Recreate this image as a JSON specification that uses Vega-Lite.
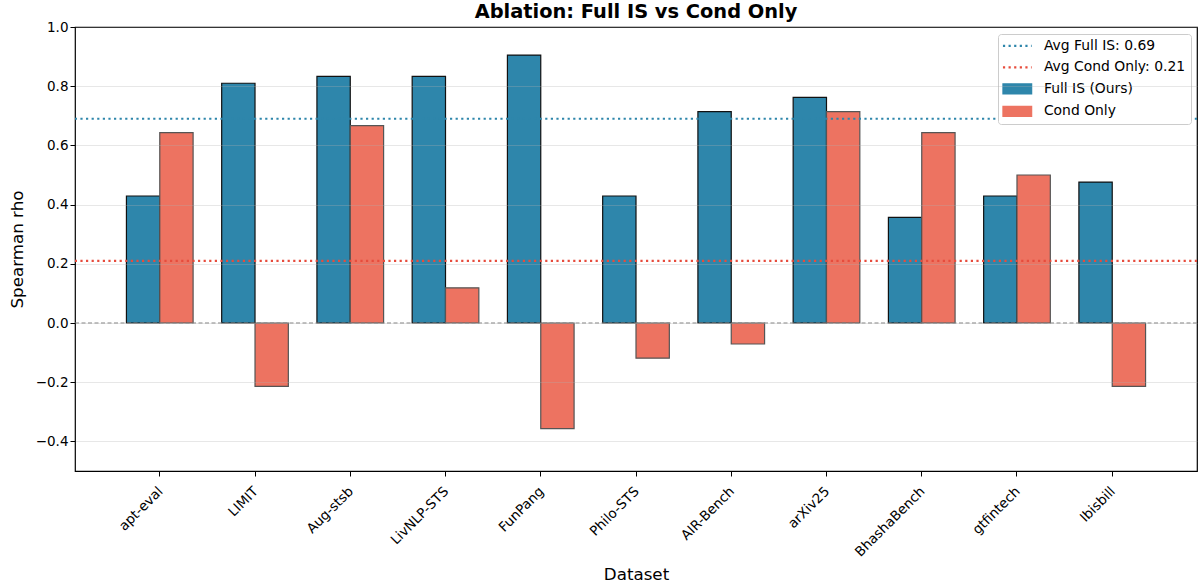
{
  "$schema": "https://vega.github.io/schema/vega-lite/v6.json",
  "autosize": {"type": "none"},
  "width": 1122,
  "height": 444,
  "padding": {"left": 75, "top": 27, "right": 1, "bottom": 114},
  "background": "white",
  "title": {"text": "Ablation: Full IS vs Cond Only", "font": "DejaVu Sans", "fontSize": 19.4, "fontWeight": "bold", "color": "#000", "offset": -2.5},
  "config": {
    "font": "DejaVu Sans",
    "view": {"stroke": "#000", "strokeWidth": 1.2},
    "axis": {"labelFont": "DejaVu Sans", "titleFont": "DejaVu Sans", "labelColor": "#000", "titleColor": "#000", "titleFontWeight": "normal", "tickColor": "#000", "domain": false},
    "legend": {
      "title": null, "orient": "top-right", "offset": 6.5,
      "fillColor": "white", "strokeColor": "#cccccc", "cornerRadius": 3, "padding": 5,
      "labelFontSize": 13.9, "labelFont": "DejaVu Sans", "labelColor": "#000", "rowPadding": 6.5, "labelOffset": 27,
      "symbolSize": 196, "symbolOpacity": 1
    }
  },
  "datasets": {
    "bars": [
      {"dataset": "apt-eval", "series": "Full IS (Ours)", "value": 0.429},
      {"dataset": "apt-eval", "series": "Cond Only", "value": 0.643},
      {"dataset": "LIMIT", "series": "Full IS (Ours)", "value": 0.810},
      {"dataset": "LIMIT", "series": "Cond Only", "value": -0.214},
      {"dataset": "Aug-stsb", "series": "Full IS (Ours)", "value": 0.833},
      {"dataset": "Aug-stsb", "series": "Cond Only", "value": 0.667},
      {"dataset": "LivNLP-STS", "series": "Full IS (Ours)", "value": 0.833},
      {"dataset": "LivNLP-STS", "series": "Cond Only", "value": 0.119},
      {"dataset": "FunPang", "series": "Full IS (Ours)", "value": 0.905},
      {"dataset": "FunPang", "series": "Cond Only", "value": -0.357},
      {"dataset": "Philo-STS", "series": "Full IS (Ours)", "value": 0.429},
      {"dataset": "Philo-STS", "series": "Cond Only", "value": -0.119},
      {"dataset": "AIR-Bench", "series": "Full IS (Ours)", "value": 0.714},
      {"dataset": "AIR-Bench", "series": "Cond Only", "value": -0.071},
      {"dataset": "arXiv25", "series": "Full IS (Ours)", "value": 0.762},
      {"dataset": "arXiv25", "series": "Cond Only", "value": 0.714},
      {"dataset": "BhashaBench", "series": "Full IS (Ours)", "value": 0.357},
      {"dataset": "BhashaBench", "series": "Cond Only", "value": 0.643},
      {"dataset": "gtfintech", "series": "Full IS (Ours)", "value": 0.429},
      {"dataset": "gtfintech", "series": "Cond Only", "value": 0.500},
      {"dataset": "Ibisbill", "series": "Full IS (Ours)", "value": 0.476},
      {"dataset": "Ibisbill", "series": "Cond Only", "value": -0.214}
    ],
    "avgs": [
      {"series": "Avg Full IS: 0.69", "value": 0.69},
      {"series": "Avg Cond Only: 0.21", "value": 0.21}
    ],
    "zero": [{"value": 0}]
  },
  "layer": [
    {
      "data": {"name": "bars"},
      "mark": {"type": "bar", "strokeWidth": 1.2},
      "encoding": {
        "x": {
          "field": "dataset", "type": "nominal", "sort": null,
          "scale": {"paddingInner": 0.3, "paddingOuter": 0.54},
          "axis": {"title": "Dataset", "titleFontSize": 16.7, "titlePadding": 8, "labelAngle": -45, "labelFontSize": 13.5, "tickSize": 5, "labelPadding": 8, "labelOffset": -4, "grid": false}
        },
        "xOffset": {"field": "series", "type": "nominal", "sort": ["Full IS (Ours)", "Cond Only"], "scale": {"paddingInner": 0}},
        "y": {
          "field": "value", "type": "quantitative",
          "scale": {"domain": [-0.5, 1.0], "nice": false, "zero": false},
          "axis": {"title": "Spearman rho", "titleFontSize": 16.7, "titlePadding": 9, "values": [-0.4, -0.2, 0, 0.2, 0.4, 0.6, 0.8, 1.0], "format": ".1f", "labelFontSize": 13.5, "tickSize": 5, "grid": true, "gridColor": "#b0b0b0", "gridOpacity": 0.3, "gridWidth": 1, "zindex": 1}
        },
        "stroke": {
          "field": "series", "type": "nominal", "legend": null,
          "scale": {"domain": ["Full IS (Ours)", "Cond Only"], "range": ["#111111", "#555555"]}
        },
        "color": {
          "field": "series", "type": "nominal",
          "scale": {"domain": ["Avg Full IS: 0.69", "Avg Cond Only: 0.21", "Full IS (Ours)", "Cond Only"], "range": ["#2E86AB", "#E74C3C", "#2E86AB", "#ED7361"]},
          "legend": {
            "encode": {
              "symbols": {
                "update": {
                  "shape": {"signal": "(datum.value === 'Avg Full IS: 0.69' || datum.value === 'Avg Cond Only: 0.21') ? 'M-1,0H3.1' : 'M-1,-0.72H3.1V0.72H-1Z'"},
                  "fill": {"signal": "datum.value === 'Full IS (Ours)' ? '#2E86AB' : (datum.value === 'Cond Only' ? '#ED7361' : 'transparent')"},
                  "stroke": {"signal": "datum.value === 'Avg Full IS: 0.69' ? '#2E86AB' : (datum.value === 'Avg Cond Only: 0.21' ? '#E74C3C' : (datum.value === 'Cond Only' ? '#555555' : '#111111'))"},
                  "strokeWidth": {"signal": "(datum.value === 'Avg Full IS: 0.69' || datum.value === 'Avg Cond Only: 0.21') ? 2.2 : 1.2"},
                  "strokeDash": {"signal": "(datum.value === 'Avg Full IS: 0.69' || datum.value === 'Avg Cond Only: 0.21') ? [2.2, 3.4] : [1, 0]"}
                }
              }
            }
          }
        }
      }
    },
    {
      "data": {"name": "zero"},
      "mark": {"type": "rule", "color": "#808080", "strokeWidth": 1, "strokeDash": [4, 2.5]},
      "encoding": {"y": {"field": "value", "type": "quantitative"}}
    },
    {
      "data": {"name": "avgs"},
      "mark": {"type": "rule", "strokeWidth": 2.2, "strokeDash": [2.2, 3.4]},
      "encoding": {
        "y": {"field": "value", "type": "quantitative"},
        "color": {
          "field": "series", "type": "nominal",
          "legend": {
            "encode": {
              "symbols": {
                "update": {
                  "shape": {"signal": "(datum.value === 'Avg Full IS: 0.69' || datum.value === 'Avg Cond Only: 0.21') ? 'M-1,0H3.1' : 'M-1,-0.72H3.1V0.72H-1Z'"},
                  "fill": {"signal": "datum.value === 'Full IS (Ours)' ? '#2E86AB' : (datum.value === 'Cond Only' ? '#ED7361' : 'transparent')"},
                  "stroke": {"signal": "datum.value === 'Avg Full IS: 0.69' ? '#2E86AB' : (datum.value === 'Avg Cond Only: 0.21' ? '#E74C3C' : (datum.value === 'Cond Only' ? '#555555' : '#111111'))"},
                  "strokeWidth": {"signal": "(datum.value === 'Avg Full IS: 0.69' || datum.value === 'Avg Cond Only: 0.21') ? 2.2 : 1.2"},
                  "strokeDash": {"signal": "(datum.value === 'Avg Full IS: 0.69' || datum.value === 'Avg Cond Only: 0.21') ? [2.2, 3.4] : [1, 0]"}
                }
              }
            }
          }
        }
      }
    }
  ]
}
